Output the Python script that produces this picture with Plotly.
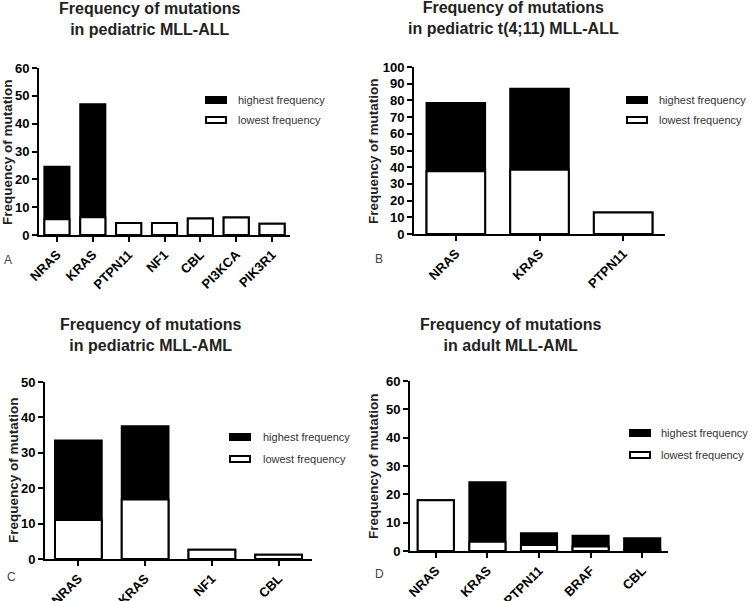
import plotly.graph_objects as go

# ---------------- data ----------------
a_genes = ["NRAS", "KRAS", "PTPN11", "NF1", "CBL", "PI3KCA", "PIK3R1"]
a_high = [24.5, 47.0, 4.3, 4.3, 5.9, 6.3, 4.0]
a_low = [5.7, 6.4, 4.3, 4.3, 5.9, 6.3, 4.0]

b_genes = ["NRAS", "KRAS", "PTPN11"]
b_high = [78.5, 87.0, 12.8]
b_low = [37.5, 38.5, 12.8]

c_genes = ["NRAS", "KRAS", "NF1", "CBL"]
c_high = [33.5, 37.5, 2.6, 1.2]
c_low = [11.0, 16.8, 2.6, 1.2]

d_genes = ["NRAS", "KRAS", "PTPN11", "BRAF", "CBL"]
d_high = [17.9, 24.3, 6.3, 5.4, 4.5]
d_low = [17.9, 3.3, 2.1, 1.6, 0.7]

titles = [
    "Frequency of mutations<br>in pediatric MLL-ALL",
    "Frequency of mutations<br>in pediatric t(4;11) MLL-ALL",
    "Frequency of mutations<br>in pediatric MLL-AML",
    "Frequency of mutations<br>in adult MLL-AML",
]
panel_letters = ["A", "B", "C", "D"]
y_max = [60, 100, 50, 60]
y_dtick = [10, 10, 10, 10]
y_title = "Frequency of mutation"
legend_names = ["highest frequency", "lowest frequency"]
legend_fills = ["black", "white"]

# ---------------- layout helpers ----------------
W, H = 750, 601
FONT = "Liberation Sans, Arial, Helvetica, sans-serif"


def px_x(p):
    return p / W


def px_y(p):
    return 1 - p / H


# pixel boxes (left, right, top, bottom)
boxes = [
    (39, 290, 68, 235),
    (414, 665, 67, 234),
    (45, 312, 382, 559),
    (410, 668, 381, 551),
]
# legend: swatch left, text left, row1 y, row2 y
legend_pos = [(206, 236, 100, 120), (627, 657, 100, 120),
              (230, 261, 437, 459), (630, 659, 433, 455)]
title_pos = [(149, 19), (513, 18), (150, 335), (510, 335)]
ytitle_pos = [(7, 152), (373, 151), (13, 470), (373, 466)]
letter_pos = [(8, 260), (379, 259), (11, 577), (379, 574)]

datasets = [
    (a_genes, a_high, a_low),
    (b_genes, b_high, b_low),
    (c_genes, c_high, c_low),
    (d_genes, d_high, d_low),
]

fig = go.Figure()
annotations = []
shapes = []

for i, (genes, high, low) in enumerate(datasets):
    xa = "x" if i == 0 else f"x{i+1}"
    ya = "y" if i == 0 else f"y{i+1}"
    fig.add_trace(go.Bar(
        x=genes, y=high, name=legend_names[0], xaxis=xa, yaxis=ya,
        marker=dict(color="black", line=dict(color="black", width=2)),
        showlegend=False,
    ))
    fig.add_trace(go.Bar(
        x=genes, y=low, name=legend_names[1], xaxis=xa, yaxis=ya,
        marker=dict(color="white", line=dict(color="black", width=2)),
        showlegend=False,
    ))

    l, r, t, b = boxes[i]
    xkey = "xaxis" if i == 0 else f"xaxis{i+1}"
    ykey = "yaxis" if i == 0 else f"yaxis{i+1}"
    fig.layout[xkey] = dict(
        domain=[px_x(l), px_x(r)], anchor=ya,
        range=[-0.5, len(genes) - 0.5],
        showline=True, linecolor="black", linewidth=2,
        ticks="outside", ticklen=5, tickwidth=2, tickcolor="black",
        tickangle=-45, showgrid=False, zeroline=False,
        tickfont=dict(family=FONT, size=13, color="black", weight="bold"),
        fixedrange=True,
    )
    fig.layout[ykey] = dict(
        domain=[px_y(b), px_y(t)], anchor=xa,
        range=[0, y_max[i]], dtick=y_dtick[i],
        showline=True, linecolor="black", linewidth=2,
        ticks="outside", ticklen=5, tickwidth=2, tickcolor="black",
        showgrid=False, zeroline=False,
        tickfont=dict(family=FONT, size=13, color="black", weight="bold"),
        fixedrange=True,
    )

    # legend (swatch + label)
    sx, tx_, r1, r2 = legend_pos[i]
    for name, fill, ry in zip(legend_names, legend_fills, (r1, r2)):
        shapes.append(dict(
            type="rect", xref="paper", yref="paper",
            x0=px_x(sx), x1=px_x(sx + 20), y0=px_y(ry + 3), y1=px_y(ry - 3),
            fillcolor=fill, line=dict(color="black", width=2),
        ))
        annotations.append(dict(
            text=name, x=px_x(tx_), y=px_y(ry), xref="paper", yref="paper",
            xanchor="left", yanchor="middle", showarrow=False,
            font=dict(family=FONT, size=11, color="#333333"),
        ))

    tx, ty = title_pos[i]
    annotations.append(dict(
        text=titles[i], x=px_x(tx), y=px_y(ty), xref="paper", yref="paper",
        xanchor="center", yanchor="middle", showarrow=False,
        font=dict(family=FONT, size=16, color="#222222", weight="bold"),
    ))
    yx, yy = ytitle_pos[i]
    annotations.append(dict(
        text=y_title, x=px_x(yx), y=px_y(yy), xref="paper", yref="paper",
        xanchor="center", yanchor="middle", showarrow=False, textangle=-90,
        font=dict(family=FONT, size=13.5, color="#222222", weight="bold"),
    ))
    px_, py_ = letter_pos[i]
    annotations.append(dict(
        text=panel_letters[i], x=px_x(px_), y=px_y(py_), xref="paper", yref="paper",
        xanchor="center", yanchor="middle", showarrow=False,
        font=dict(family=FONT, size=12, color="#444444"),
    ))

fig.update_layout(
    width=W, height=H,
    margin=dict(l=0, r=0, t=0, b=0, autoexpand=False),
    paper_bgcolor="white", plot_bgcolor="white",
    barmode="overlay", bargap=0.3,
    annotations=annotations, shapes=shapes,
    showlegend=False,
)

fig.write_html(
    "out.html",
    config={"displayModeBar": False},
    post_script="document.body.style.margin='0';document.body.style.overflow='hidden';",
)
